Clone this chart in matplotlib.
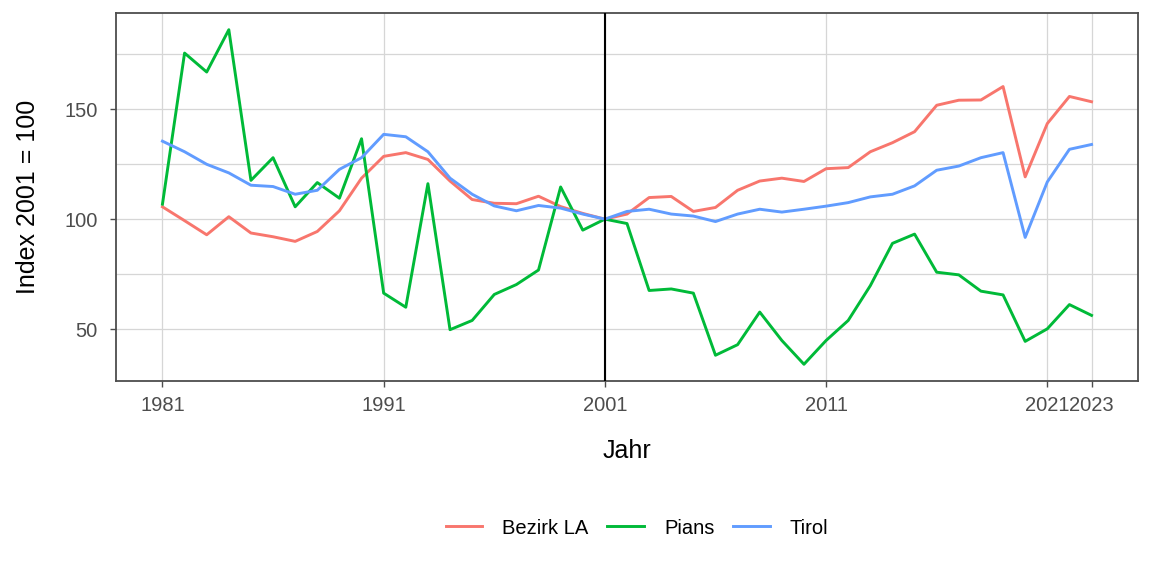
import matplotlib
matplotlib.use("Agg")
import matplotlib.pyplot as plt
from matplotlib.ticker import FixedLocator

plt.rcParams['font.family'] = ['Liberation Sans', 'DejaVu Sans']

# Daten (Index 2001 = 100)
years = list(range(1981, 2024))

bezirk_la = [105.6, 99.3, 92.9, 101.1, 93.7, 92.0, 89.9, 94.4, 103.8, 118.6,
             128.5, 130.2, 127.1, 117.3, 108.9, 107.2, 107.0, 110.4, 105.7, 102.6,
             100.0, 102.3, 109.8, 110.3, 103.5, 105.3, 113.1, 117.3, 118.6, 117.1,
             122.9, 123.4, 130.6, 134.7, 139.7, 151.7, 154.0, 154.1, 160.2, 119.2,
             143.4, 155.7, 153.3]

pians = [106.8, 175.4, 166.8, 186.0, 117.6, 127.9, 105.6, 116.6, 109.5, 136.5,
         66.4, 60.0, 116.1, 49.8, 54.0, 65.8, 70.3, 76.9, 114.6, 95.0,
         100.0, 98.0, 67.6, 68.3, 66.4, 38.2, 43.0, 57.8, 44.9, 34.1,
         44.9, 54.0, 69.8, 89.0, 93.2, 75.9, 74.7, 67.3, 65.6, 44.5,
         50.2, 61.2, 56.3]

tirol = [135.4, 130.6, 124.9, 121.0, 115.4, 114.8, 111.3, 113.1, 122.6, 127.9,
         138.5, 137.4, 130.6, 118.6, 111.3, 106.0, 103.8, 106.2, 105.0, 102.3,
         100.0, 103.5, 104.5, 102.3, 101.4, 98.9, 102.3, 104.5, 103.2, 104.5,
         105.9, 107.5, 110.1, 111.3, 115.1, 122.2, 124.1, 127.9, 130.2, 91.7,
         116.9, 131.7, 133.9]

series = {'Bezirk LA': bezirk_la, 'Pians': pians, 'Tirol': tirol}
colors = {'Bezirk LA': '#F8766D', 'Pians': '#00BA38', 'Tirol': '#619CFF'}

x_breaks = [1981, 1991, 2001, 2011, 2021, 2023]
y_breaks = [50, 100, 150]
y_minor = [75, 125, 175]

fig = plt.figure(figsize=(11.52, 5.76), dpi=100)
ax = fig.add_axes([116 / 1152, 1 - 381 / 576, (1138 - 116) / 1152, (381 - 13) / 576])

for name, vals in series.items():
    ax.plot(years, vals, color=colors[name], lw=2.1, label=name, zorder=3)

ax.axvline(2001, color='black', lw=1.5, zorder=4)
ax.margins(x=0.05, y=0.05)

ax.set_xticks(x_breaks)
ax.set_xticklabels([str(y) for y in x_breaks])
ax.set_yticks(y_breaks)
ax.yaxis.set_minor_locator(FixedLocator(y_minor))

ax.grid(True, which='major', color='#D6D6D6', lw=0.9, zorder=0)
ax.grid(True, which='minor', axis='y', color='#D6D6D6', lw=0.9, zorder=0)
ax.set_axisbelow(True)

ax.tick_params(axis='both', which='major', length=4, width=1, color='#4D4D4D',
               labelcolor='#4D4D4D', labelsize=14.5)
ax.tick_params(axis='x', which='major', pad=7)
ax.tick_params(axis='y', which='major', pad=9)
ax.tick_params(axis='y', which='minor', length=0)
for sp in ax.spines.values():
    sp.set_color('#4D4D4D')
    sp.set_linewidth(1.3)

ax.set_xlabel('Jahr', fontsize=18, labelpad=17)
ax.set_ylabel('Index 2001 = 100', fontsize=18, labelpad=18)

handles, labels = ax.get_legend_handles_labels()
fig.legend(handles, labels, loc='center', bbox_to_anchor=(0.553, 1 - 528 / 576),
           ncol=3, frameon=False, fontsize=14.5, handlelength=1.8,
           handletextpad=1.0, columnspacing=0.95)

fig.savefig('out.png', dpi=100)
